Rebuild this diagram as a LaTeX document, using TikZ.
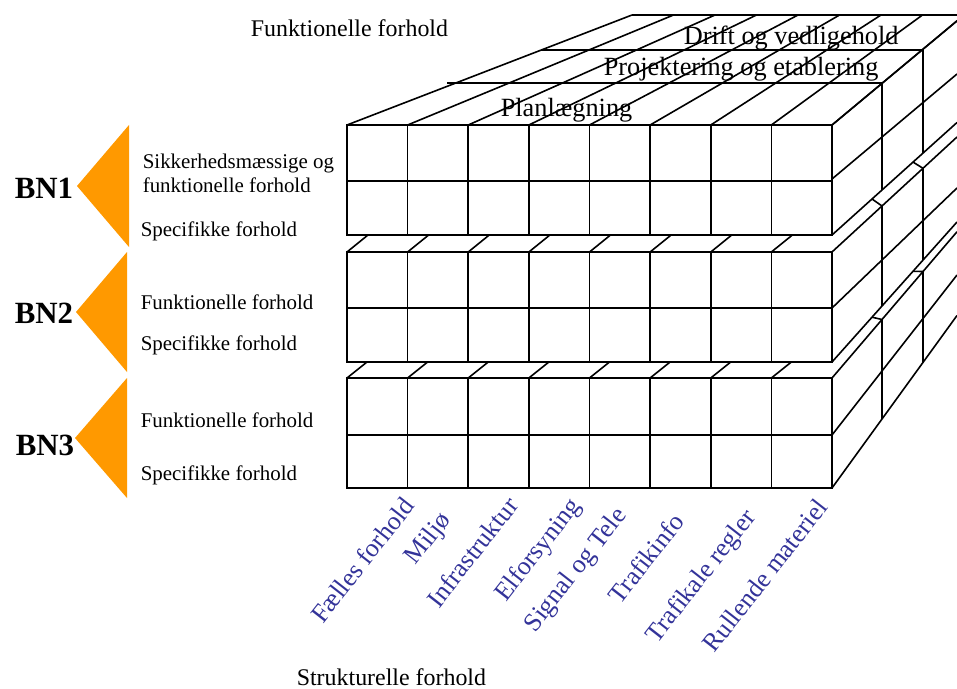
\documentclass[tikz,border=0pt]{standalone}
\usepackage{fontspec}
\setmainfont{Liberation Serif}
\definecolor{bnorange}{RGB}{255,153,0}
\definecolor{catblue}{RGB}{51,51,153}
\newcommand\sideface[6]{%
  \draw (832,#1) -- (957,{#1-125*#2});
  \draw (832,#3) -- (957,{#3-125*#4});
  \draw (832,#5) -- (957,{#5-125*#6});
  \draw (882,{#1-50*#2}) -- (882,{#5-50*#6});
  \draw (923,{#1-91*#2}) -- (923,{#5-91*#6});
}
\newcommand\gapbracket[4]{%
  \draw (872,{#1-40*#2}) -- (882,{#3-50*#4});
  \draw (913,{#1-81*#2}) -- (923,{#3-91*#4});
}
\begin{document}
\begin{tikzpicture}[x=1bp,y=-1bp,line width=1.6bp,line cap=butt,
  lbl/.style={inner sep=0pt,anchor=base west,font=\fontsize{21}{24}\selectfont},
  toplbl/.style={inner sep=0pt,anchor=base west,font=\fontsize{26.4}{30}\selectfont},
  axlbl/.style={inner sep=0pt,anchor=base west,font=\fontsize{24}{28}\selectfont},
  bnlbl/.style={inner sep=0pt,anchor=base west,font=\fontsize{31}{34}\selectfont\bfseries},
  catlbl/.style={inner sep=0pt,anchor=east,rotate=52,text=catblue,font=\fontsize{26}{29}\selectfont}]
\useasboundingbox (0,0) rectangle (957,689);
\begin{scope}
\clip (0,0) rectangle (957,689);
% top surface of the upper block
\foreach \i in {0,...,8} \draw ({347+60.625*\i},125) -- ({632+41.5*\i},15);
\draw (447,83) -- (882,83);
\draw (541,50) -- (923,50);
\draw (632,15) -- (960,15);
% side faces
\sideface{125}{0.833}{179}{0.84}{235}{0.9}
\sideface{252}{0.92}{308}{0.96}{362}{1.12}
\sideface{378}{1.17}{435}{1.28}{488}{1.38}
\gapbracket{235}{0.9}{252}{0.92}
\gapbracket{362}{1.12}{378}{1.17}
% front faces
\foreach \t/\m/\b in {125/181/235, 252/308/362, 378/435/488} {
  \draw (347,\t) rectangle (832,\b);
  \draw (347,\m) -- (832,\m);
  \foreach \i in {1,...,7} \draw ({347+60.625*\i},\t) -- ({347+60.625*\i},\b);
}
% visible strips of the lower tops
\foreach \i in {0,...,7} {
  \draw ({347+60.625*\i},252) -- ({368+60.625*\i},235);
  \draw ({347+60.625*\i},378) -- ({367+60.625*\i},362);
}
\end{scope}
% orange wedges
\fill[bnorange] (77,186) -- (129,125) -- (129,247) -- cycle;
\fill[bnorange] (76,312) -- (127,252) -- (127,372) -- cycle;
\fill[bnorange] (75,438) -- (127,378) -- (127,498) -- cycle;
% level labels
\node[bnlbl] (bn1) at (14,198) {BN1};
\node[bnlbl] (bn2) at (14,323) {BN2};
\node[bnlbl] (bn3) at (15,455) {BN3};
\node[lbl] (s1a) at (142,169) {Sikkerhedsmæssige og};
\node[lbl] (s1b) at (142,192) {funktionelle forhold};
\node[lbl] (s1c) at (140,236) {Specifikke forhold};
\node[lbl] (s2a) at (140,309) {Funktionelle forhold};
\node[lbl] (s2b) at (140,350) {Specifikke forhold};
\node[lbl] (s3a) at (140,427) {Funktionelle forhold};
\node[lbl] (s3b) at (140,480) {Specifikke forhold};
% phase labels
\node[axlbl] (funk) at (250,37) {Funktionelle forhold};
\node[toplbl] (drift) at (683,45) {Drift og vedligehold};
\node[toplbl] (proj) at (603,76) {Projektering og etablering};
\node[toplbl] (plan) at (500,117) {Planlægning};
\node[axlbl] (strukt) at (296,685) {Strukturelle forhold};
% category labels
\node[catlbl] (c1) at (409,500) {Fælles forhold};
\node[catlbl] (c2) at (447,516) {Miljø};
\node[catlbl] (c3) at (513,500) {Infrastruktur};
\node[catlbl] (c4) at (577,502) {Elforsyning};
\node[catlbl] (c5) at (623,511) {Signal og Tele};
\node[catlbl] (c6) at (679,516) {Trafikinfo};
\node[catlbl] (c7) at (752,513) {Trafikale regler};
\node[catlbl] (c8) at (822,502) {Rullende materiel};
\end{tikzpicture}
\end{document}
